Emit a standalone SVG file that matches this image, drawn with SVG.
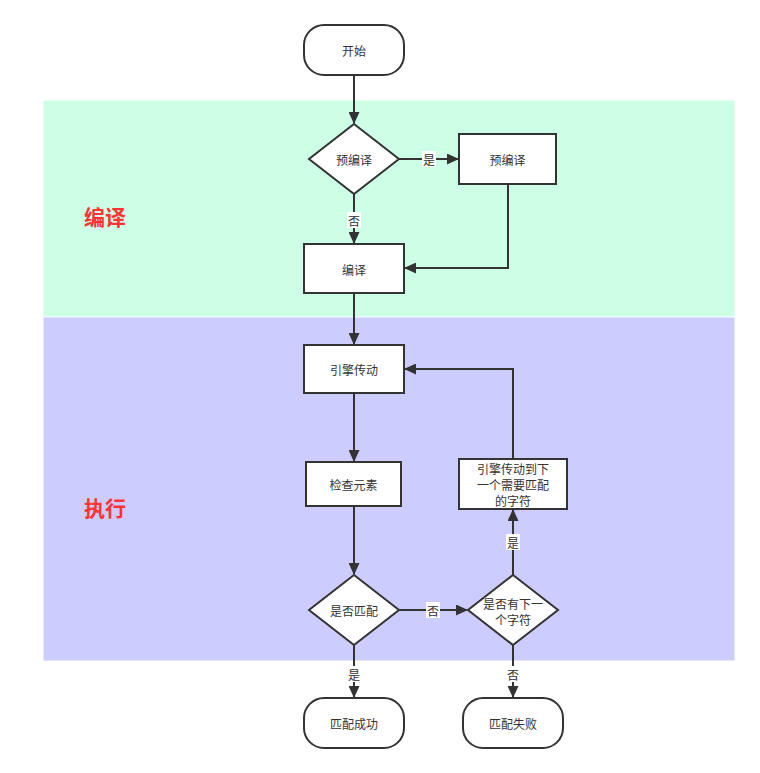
<svg xmlns="http://www.w3.org/2000/svg" width="760" height="773" viewBox="0 0 760 773">
<style>
.n{fill:#fff;stroke:#333;stroke-width:2}
.t{font-family:"Noto Sans CJK SC","Liberation Sans",sans-serif;font-size:12px;fill:#333;text-anchor:middle;dominant-baseline:central}
.c{fill:none;stroke:#333;stroke-width:2}
.lb{fill:#fff}
.sec{font-family:"Noto Sans CJK SC",sans-serif;font-size:21px;font-weight:bold;fill:#ff3333;text-anchor:middle;dominant-baseline:central}
</style>
<defs>
<marker id="ah" markerWidth="12" markerHeight="11" refX="11" refY="5.5" orient="auto" markerUnits="userSpaceOnUse">
<path d="M0,0 L12,5.5 L0,11 Z" fill="#333"/>
</marker>
</defs>
<rect width="760" height="773" fill="#fff"/>
<g id="lane-compile">
<rect x="43.5" y="100.5" width="691" height="216" fill="#ccffe6" stroke="#e8fff4" stroke-dasharray="3 3"/>
<text class="sec" x="105" y="216">编译</text>
</g>
<g id="lane-exec">
<rect x="43.5" y="317.5" width="691" height="343" fill="#ccccff" stroke="#e4e4ff" stroke-dasharray="3 3"/>
<text class="sec" x="105" y="507">执行</text>
</g>
<g id="connectors">
<path class="c" d="M354,75 V123" marker-end="url(#ah)"/>
<path class="c" d="M399,159 H458" marker-end="url(#ah)"/>
<path class="c" d="M354,194 V243" marker-end="url(#ah)"/>
<path class="c" d="M508,184 V268 H405" marker-end="url(#ah)"/>
<path class="c" d="M354,293 V344" marker-end="url(#ah)"/>
<path class="c" d="M354,393 V461" marker-end="url(#ah)"/>
<path class="c" d="M354,506 V574" marker-end="url(#ah)"/>
<path class="c" d="M399,610 H467" marker-end="url(#ah)"/>
<path class="c" d="M513,575 V510" marker-end="url(#ah)"/>
<path class="c" d="M513,459 V369 H405" marker-end="url(#ah)"/>
<path class="c" d="M354,645 V697" marker-end="url(#ah)"/>
<path class="c" d="M513,645 V697" marker-end="url(#ah)"/>
<rect class="lb" x="422" y="151" width="14" height="16"/>
<text class="t" x="429" y="159">是</text>
<rect class="lb" x="347" y="212" width="14" height="16"/>
<text class="t" x="354" y="220">否</text>
<rect class="lb" x="426" y="602" width="14" height="16"/>
<text class="t" x="433" y="610">否</text>
<rect class="lb" x="506" y="534" width="14" height="16"/>
<text class="t" x="513" y="542">是</text>
<rect class="lb" x="347" y="666" width="14" height="16"/>
<text class="t" x="354" y="674">是</text>
<rect class="lb" x="506" y="666" width="14" height="16"/>
<text class="t" x="513" y="674">否</text>
</g>
<g id="start">
<rect class="n" x="304" y="25" width="100" height="50" rx="20"/>
<text class="t" x="354" y="50">开始</text>
</g>
<g id="dec-precompile">
<path class="n" d="M354,124 L399,159 L354,194 L309,159 Z"/>
<text class="t" x="354" y="159">预编译</text>
</g>
<g id="precompile">
<rect class="n" x="459" y="134" width="97" height="50"/>
<text class="t" x="507.5" y="159">预编译</text>
</g>
<g id="compile">
<rect class="n" x="304" y="244" width="100" height="49"/>
<text class="t" x="354" y="269">编译</text>
</g>
<g id="engine">
<rect class="n" x="304" y="345" width="100" height="48"/>
<text class="t" x="354" y="369">引擎传动</text>
</g>
<g id="check">
<rect class="n" x="306" y="462" width="95" height="44"/>
<text class="t" x="353.5" y="484">检查元素</text>
</g>
<g id="advance">
<rect class="n" x="459" y="459" width="108" height="50"/>
<text class="t" x="513" y="468">引擎传动到下</text>
<text class="t" x="513" y="484">一个需要匹配</text>
<text class="t" x="513" y="500">的字符</text>
</g>
<g id="dec-match">
<path class="n" d="M354,575 L399,610 L354,645 L309,610 Z"/>
<text class="t" x="354" y="610">是否匹配</text>
</g>
<g id="dec-next">
<path class="n" d="M513,575 L558,610 L513,645 L468,610 Z"/>
<text class="t" x="513" y="603">是否有下一</text>
<text class="t" x="513" y="619">个字符</text>
</g>
<g id="success">
<rect class="n" x="304" y="698" width="100" height="50" rx="20"/>
<text class="t" x="354" y="723">匹配成功</text>
</g>
<g id="fail">
<rect class="n" x="463" y="698" width="100" height="50" rx="20"/>
<text class="t" x="513" y="723">匹配失败</text>
</g>
</svg>
